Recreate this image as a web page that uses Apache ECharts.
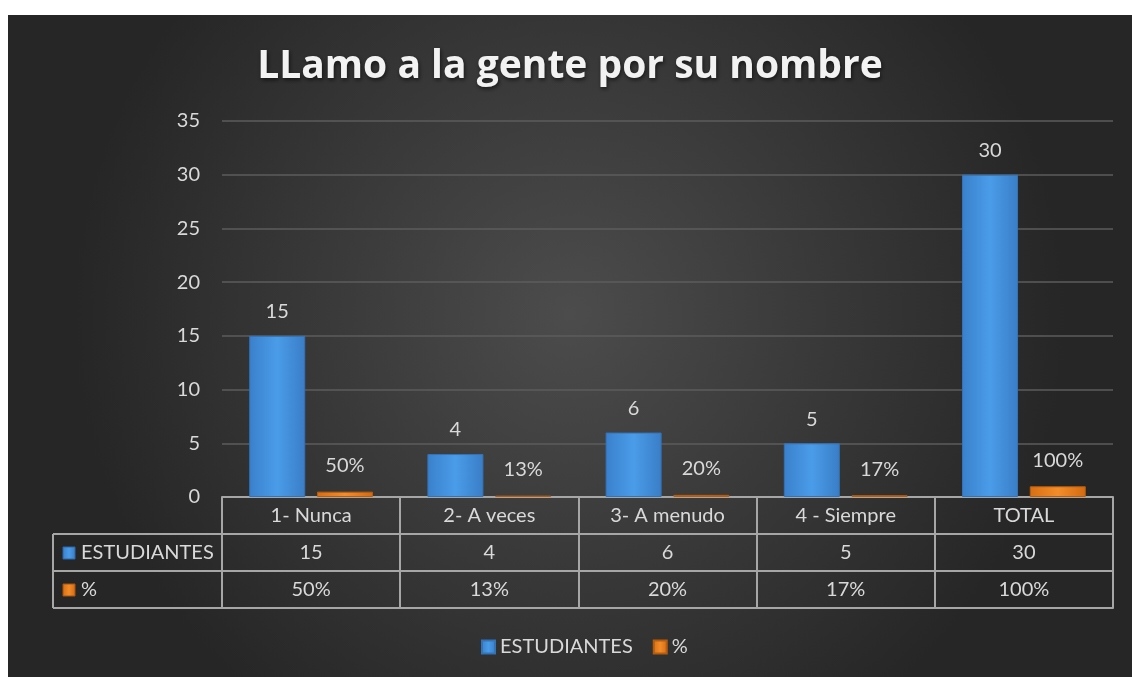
<!DOCTYPE html>
<html>
<head>
<meta charset="utf-8">
<script src="https://cdn.jsdelivr.net/npm/echarts@6/dist/echarts.min.js"></script>
<style>
  html, body { margin: 0; padding: 0; background: #fff; }
  #chart { position: absolute; left: 8px; top: 15px; width: 1124px; height: 662px; }
</style>
</head>
<body>
<div id="chart"></div>
<script>
// datos de la encuesta
var categorias = ['1- Nunca', '2- A veces', '3- A menudo', '4 - Siempre', 'TOTAL']
var estudiantes = [15, 4, 6, 5, 30]
var porcentaje = [0.5, 0.13, 0.2, 0.17, 1]
var titulo = 'LLamo a la gente por su nombre'

var textColor = '#d9d9d9'
var tableLine = '#a6a6a6'
var fontFam = 'Lato, "Open Sans", sans-serif'

function pct(v) {
  return Math.round(v * 100) + '%'
}

// relleno con efecto bisel
var azul = new echarts.graphic.LinearGradient(0, 0, 1, 0, [
  { offset: 0, color: '#3a80cc' },
  { offset: 0.5, color: '#4a9ce9' },
  { offset: 1, color: '#3a7dc6' }
])
var naranja = new echarts.graphic.LinearGradient(0, 0, 1, 0, [
  { offset: 0, color: '#d86e12' },
  { offset: 0.5, color: '#f38c2a' },
  { offset: 1, color: '#d46a10' }
])

// eje de la tabla: linea horizontal + separadores verticales
function tableAxis(offset, data, showTicks) {
  return {
    type: 'category',
    position: 'bottom',
    gridIndex: 0,
    offset: offset,
    data: data,
    axisLine: { show: true, lineStyle: { color: tableLine, width: 2 } },
    axisTick: { show: showTicks, length: 37, interval: 0, lineStyle: { color: tableLine, width: 2 } },
    axisLabel: { show: showTicks, interval: 0, color: textColor, fontSize: 20, fontFamily: fontFam, margin: 9 },
    splitLine: { show: false }
  }
}

var chart = echarts.init(document.getElementById('chart'))
chart.setOption({
  backgroundColor: new echarts.graphic.RadialGradient(0.5, 0.45, 0.75, [
    { offset: 0, color: '#4c4c4c' },
    { offset: 1, color: '#262626' }
  ]),
  title: {
    text: titulo,
    left: 'center',
    top: 27,
    textStyle: {
      color: '#f2f2f2',
      fontSize: 39,
      fontWeight: 'bold',
      fontFamily: '"Open Sans", Lato, sans-serif',
      textShadowColor: 'rgba(0,0,0,0.6)',
      textShadowBlur: 4,
      textShadowOffsetX: 1,
      textShadowOffsetY: 2
    }
  },
  legend: {
    bottom: 15,
    left: 468,
    itemWidth: 13,
    itemHeight: 13,
    itemGap: 20,
    icon: 'rect',
    textStyle: { color: textColor, fontSize: 20, fontFamily: fontFam },
    data: ['ESTUDIANTES', '%']
  },
  grid: { left: 214, right: 19, top: 106, bottom: 180 },
  xAxis: [
    tableAxis(0, categorias, true),
    tableAxis(37, estudiantes.map(String), true),
    tableAxis(74, porcentaje.map(pct), true),
    tableAxis(111, categorias, false)
  ],
  yAxis: {
    type: 'value',
    min: 0,
    max: 35,
    interval: 5,
    axisLine: { show: false },
    axisTick: { show: false },
    axisLabel: { color: textColor, fontSize: 20, fontFamily: fontFam, margin: 22 },
    splitLine: { lineStyle: { color: '#5c5c5c', width: 1.5 } }
  },
  graphic: [
    // columna izquierda de la tabla
    { type: 'line', shape: { x1: 45, y1: 519, x2: 214, y2: 519 }, style: { stroke: tableLine, lineWidth: 2 } },
    { type: 'line', shape: { x1: 45, y1: 556, x2: 214, y2: 556 }, style: { stroke: tableLine, lineWidth: 2 } },
    { type: 'line', shape: { x1: 45, y1: 593, x2: 214, y2: 593 }, style: { stroke: tableLine, lineWidth: 2 } },
    { type: 'line', shape: { x1: 45, y1: 519, x2: 45, y2: 593 }, style: { stroke: tableLine, lineWidth: 2 } },
    { type: 'rect', shape: { x: 55, y: 532, width: 12, height: 12 }, style: { fill: azul, stroke: '#2c66a8', lineWidth: 1 } },
    { type: 'text', x: 73, y: 538, style: { text: 'ESTUDIANTES', fill: textColor, font: '20px ' + fontFam, verticalAlign: 'middle' } },
    { type: 'rect', shape: { x: 55, y: 569, width: 12, height: 12 }, style: { fill: naranja, stroke: '#a8520c', lineWidth: 1 } },
    { type: 'text', x: 73, y: 575, style: { text: '%', fill: textColor, font: '20px ' + fontFam, verticalAlign: 'middle' } }
  ],
  series: [
    {
      name: 'ESTUDIANTES',
      type: 'bar',
      data: estudiantes,
      barWidth: 56,
      barGap: '21%',
      itemStyle: { color: azul, borderColor: '#3373b8', borderWidth: 1 },
      label: {
        show: true,
        position: 'top',
        distance: 14,
        color: textColor,
        fontSize: 20,
        fontFamily: fontFam
      }
    },
    {
      name: '%',
      type: 'bar',
      data: porcentaje,
      barWidth: 56,
      itemStyle: { color: naranja, borderColor: '#b65c0e', borderWidth: 1 },
      label: {
        show: true,
        position: 'top',
        distance: 16,
        color: textColor,
        fontSize: 20,
        fontFamily: fontFam,
        formatter: function (p) { return pct(p.value) }
      }
    }
  ]
})
</script>
</body>
</html>
